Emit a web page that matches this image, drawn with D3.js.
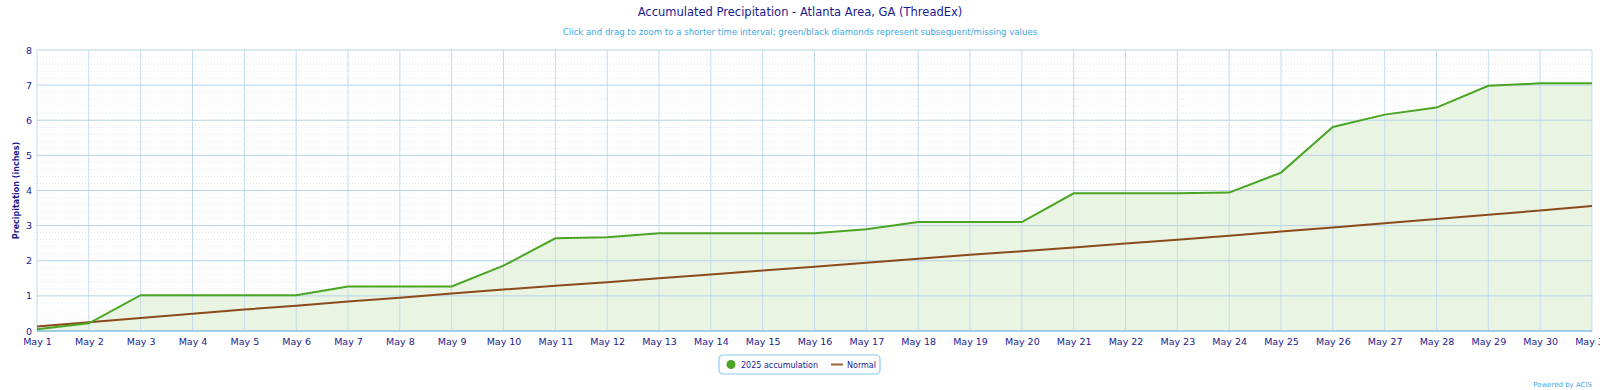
<!DOCTYPE html>
<html>
<head>
<meta charset="utf-8">
<style>
  body { margin: 0; background: #fff; font-family: "DejaVu Sans", sans-serif; }
  svg { display: block; }
</style>
</head>
<body>
<script src="https://cdn.jsdelivr.net/npm/d3@7"></script>
<script>

// May 1 .. May 31
var days = d3.range(1, 32).map(d => "May " + d);

// accumulated 2025 precip (inches)
var accum = [0.05, 0.22, 1.02, 1.02, 1.02, 1.02, 1.27, 1.27, 1.27, 1.86,
             2.64, 2.67, 2.78, 2.78, 2.78, 2.78, 2.90, 3.10, 3.10, 3.10,
             3.92, 3.92, 3.92, 3.94, 4.51, 5.81, 6.16, 6.36, 6.98, 7.05, 7.05];

// normal accumulation
var normal = [0.13, 0.25, 0.37, 0.49, 0.61, 0.72, 0.84, 0.95, 1.07, 1.18,
              1.29, 1.39, 1.50, 1.61, 1.72, 1.83, 1.94, 2.06, 2.17, 2.27,
              2.38, 2.49, 2.60, 2.71, 2.83, 2.95, 3.07, 3.19, 3.31, 3.43, 3.56];

var yTicks = [0, 1, 2, 3, 4, 5, 6, 7, 8];

var W = 1600, H = 390;
var margin = {top: 50, right: 8, bottom: 59, left: 37};

var svg = d3.select("body").append("svg")
    .attr("width", W)
    .attr("height", H);

var x = d3.scaleLinear()
    .domain([0, days.length - 1])
    .range([margin.left, W - margin.right]);

var y = d3.scaleLinear()
    .domain([0, 8])
    .range([H - margin.bottom, margin.top]);

var navy = "#1a1a8e";

// title + subtitle
svg.append("text")
    .attr("x", 800).attr("y", 16)
    .attr("text-anchor", "middle")
    .attr("fill", navy)
    .style("font-size", "11.5px")
    .text("Accumulated Precipitation - Atlanta Area, GA (ThreadEx)");

svg.append("text")
    .attr("x", 800).attr("y", 35)
    .attr("text-anchor", "middle")
    .attr("fill", "#3ea8e2")
    .style("font-size", "8.6px")
    .text("Click and drag to zoom to a shorter time interval; green/black diamonds represent subsequent/missing values");

// minor horizontal grid (dotted)
var minor = d3.range(0, 8.001, 0.2).filter(v => Math.abs(v - Math.round(v)) > 0.01);
svg.append("g")
    .selectAll("line")
    .data(minor)
  .enter().append("line")
    .attr("x1", margin.left - 3).attr("x2", W - margin.right)
    .attr("y1", d => y(d)).attr("y2", d => y(d))
    .attr("stroke", "#dde3ea")
    .attr("stroke-dasharray", "1,2");

// area fill
var area = d3.area()
    .x((d, i) => x(i))
    .y0(y(0))
    .y1(d => y(d));

svg.append("path")
    .datum(accum)
    .attr("d", area)
    .attr("fill", "#e9f4e3");

// vertical grid, one per day
svg.append("g")
    .selectAll("line")
    .data(days)
  .enter().append("line")
    .attr("x1", (d, i) => x(i)).attr("x2", (d, i) => x(i))
    .attr("y1", y(8)).attr("y2", y(0))
    .attr("stroke", "#c3dcef")
    .attr("stroke-width", 1);

// major horizontal grid
svg.append("g")
    .selectAll("line")
    .data(yTicks)
  .enter().append("line")
    .attr("x1", margin.left).attr("x2", W - margin.right)
    .attr("y1", d => y(d)).attr("y2", d => y(d))
    .attr("stroke", "#b7d3e6");

// x axis line
svg.append("line")
    .attr("x1", margin.left).attr("x2", W - margin.right)
    .attr("y1", y(0)).attr("y2", y(0))
    .attr("stroke", "#8cc6e6")
    .attr("stroke-width", 1.5);

// y axis labels
var yAxis = d3.axisLeft(y).tickValues(yTicks).tickSize(0).tickPadding(5);
var gy = svg.append("g")
    .attr("transform", `translate(${margin.left},0)`)
    .call(yAxis);
gy.select(".domain").remove();
gy.selectAll("text")
    .attr("fill", navy)
    .style("font-size", "9.5px")
    .style("font-family", "DejaVu Sans, sans-serif");

// x axis labels
var xAxis = d3.axisBottom(x)
    .tickValues(d3.range(days.length))
    .tickFormat(i => days[i])
    .tickSize(0).tickPadding(7);
var gx = svg.append("g")
    .attr("transform", `translate(0,${y(0)})`)
    .call(xAxis);
gx.select(".domain").remove();
gx.selectAll("text")
    .attr("fill", navy)
    .style("font-size", "9.5px")
    .style("font-family", "DejaVu Sans, sans-serif");

// y axis title
svg.append("text")
    .attr("transform", `translate(19,${(y(0) + y(8)) / 2}) rotate(-90)`)
    .attr("text-anchor", "middle")
    .attr("fill", navy)
    .style("font-size", "8px")
    .style("font-weight", "bold")
    .text("Precipitation (inches)");

// lines
var line = d3.line()
    .x((d, i) => x(i))
    .y(d => y(d));

svg.append("path")
    .datum(normal)
    .attr("d", line)
    .attr("fill", "none")
    .attr("stroke", "#8b4a1c")
    .attr("stroke-width", 2);

svg.append("path")
    .datum(accum)
    .attr("d", line)
    .attr("fill", "none")
    .attr("stroke", "#49a523")
    .attr("stroke-width", 2);

// legend
var lg = svg.append("g").attr("transform", "translate(719,355)");
lg.append("rect")
    .attr("width", 161).attr("height", 19)
    .attr("rx", 4)
    .attr("fill", "#fff")
    .attr("stroke", "#8ccbee")
    .attr("stroke-width", 1.2);
lg.append("circle")
    .attr("cx", 12).attr("cy", 9.5).attr("r", 4.5)
    .attr("fill", "#49a523");
lg.append("text")
    .attr("x", 22).attr("y", 12.5)
    .attr("fill", navy)
    .style("font-size", "8px")
    .text("2025 accumulation");
lg.append("line")
    .attr("x1", 112).attr("x2", 124)
    .attr("y1", 9.5).attr("y2", 9.5)
    .attr("stroke", "#a0603a")
    .attr("stroke-width", 2);
lg.append("text")
    .attr("x", 128).attr("y", 12.5)
    .attr("fill", navy)
    .style("font-size", "8px")
    .text("Normal");

// credit
svg.append("text")
    .attr("x", 1592).attr("y", 387)
    .attr("text-anchor", "end")
    .attr("fill", "#3ea8e2")
    .style("font-size", "7px")
    .text("Powered by ACIS");

</script>
</body>
</html>
